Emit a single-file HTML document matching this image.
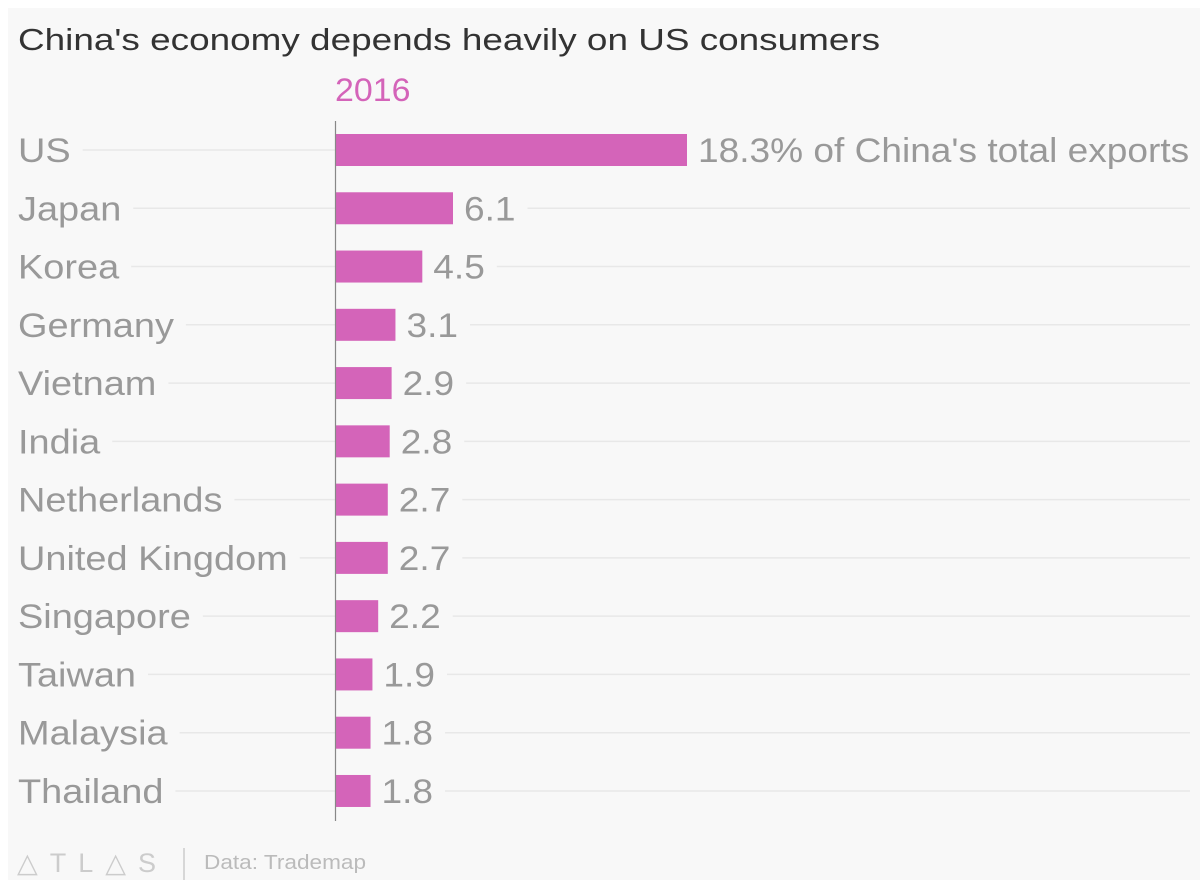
<!DOCTYPE html>
<html><head><meta charset="utf-8"><style>
html,body{margin:0;padding:0;background:#fff;}
svg{display:block;font-family:"Liberation Sans",sans-serif;}
</style></head><body>
<svg id="chart" width="1200" height="889">
<rect x="8" y="8" width="1192" height="872" fill="#f8f8f8"/>
<text id="title" x="18" y="50" font-size="31" fill="#333">China's economy depends heavily on US consumers</text>
<text id="yr" x="335" y="101" font-size="32" fill="#d464b9">2016</text>
<g id="grid"></g>
<g id="bars"></g>
<line x1="335.5" y1="121" x2="335.5" y2="821" stroke="#888" stroke-width="1.2"/>
<g>
<text id="atlas" x="17" y="872" font-size="27" fill="#ccc" letter-spacing="12">△TL△S</text>
<line x1="184" y1="848" x2="184" y2="880" stroke="#ccc" stroke-width="1.5"/>
<text id="src" x="204" y="869" font-size="20" fill="#bbb">Data: Trademap</text>
</g>
</svg>
<script>
const categories=["US","Japan","Korea","Germany","Vietnam","India","Netherlands","United Kingdom","Singapore","Taiwan","Malaysia","Thailand"];
const values=[18.3,6.1,4.5,3.1,2.9,2.8,2.7,2.7,2.2,1.9,1.8,1.8];
const valueLabels=["18.3% of China's total exports","6.1","4.5","3.1","2.9","2.8","2.7","2.7","2.2","1.9","1.8","1.8"];
const NS="http://www.w3.org/2000/svg";
const x0=336, pxPerUnit=(687-336)/18.3;
const xScale=v=>x0+v*pxPerUnit;
const yCenter=i=>150+i*58.27;
const bars=document.getElementById('bars'), grid=document.getElementById('grid');
function stretch(el,f){const w=el.getComputedTextLength()*f;el.setAttribute('textLength',w);el.setAttribute('lengthAdjust','spacingAndGlyphs');return w;}
stretch(document.getElementById('title'),1.19);
stretch(document.getElementById('yr'),1.06);
stretch(document.getElementById('src'),1.13);
function mk(tag,attrs,parent){const e=document.createElementNS(NS,tag);for(const k in attrs)e.setAttribute(k,attrs[k]);parent.appendChild(e);return e;}
categories.forEach((c,i)=>{
  const cy=yCenter(i);
  const lab=mk('text',{x:18,y:cy+12,'font-size':34,fill:'#999'},bars);
  lab.textContent=c;
  
  
  const lw=stretch(lab,1.115);
  const g1=mk('line',{x1:18+lw+12,x2:335,y1:cy,y2:cy,stroke:'#e8e8e8','stroke-width':1.5},grid);
  
  
  const xe=xScale(values[i]);
  const r=mk('rect',{x:x0,y:cy-16,width:xe-x0,height:32,fill:'#d464b9'},bars);
  
  
  const vl=mk('text',{x:xe+11,y:cy+12,'font-size':34,fill:'#999'},bars);
  vl.textContent=valueLabels[i];
  
  
  const vw=stretch(vl,1.09);
  if(xe+11+vw+12<1180){
    const g2=mk('line',{x1:xe+11+vw+12,x2:1190,y1:cy,y2:cy,stroke:'#e8e8e8','stroke-width':1.5},grid);
    
    
  }
});
</script>
</body></html>
